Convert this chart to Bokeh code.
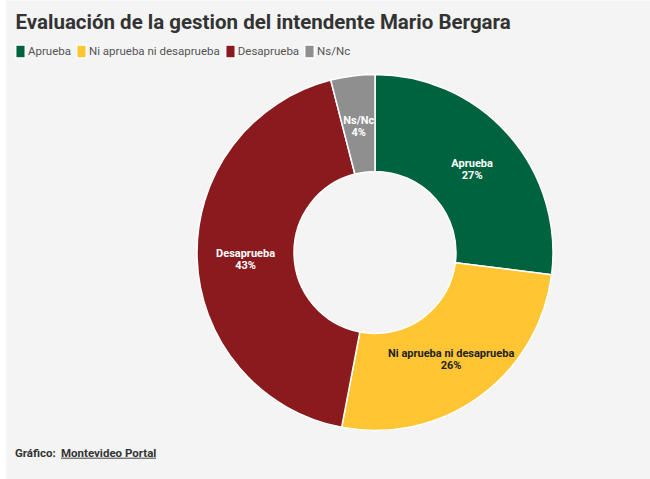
import math
from bokeh.plotting import figure
from bokeh.models import Range1d, Legend, LegendItem, ColumnDataSource
from bokeh.embed import file_html
from bokeh.resources import INLINE
from bokeh.core.properties import value

# ---- data ----
categories = ["Aprueba", "Ni aprueba ni desaprueba", "Desaprueba", "Ns/Nc"]
values = [27, 26, 43, 4]
colors = ["#00633f", "#ffc533", "#8b1a1e", "#8f8f8f"]
label_colors = ["#ffffff", "#222222", "#ffffff", "#ffffff"]

title = "Evaluación de la gestion del intendente Mario Bergara"
source_label = "Gráfico:"
source_name = "Montevideo Portal"

# ---- layout ----
W, H = 650, 479
LEFT = 6
FW = W - LEFT
BG = "#f4f4f4"
FONT = "Roboto"
CX, CY = 368.5, 227.0
R_OUT, R_IN = 178.0, 81.0

p = figure(width=W, height=H, output_backend="svg", toolbar_location=None,
           x_range=Range1d(0, FW), y_range=Range1d(0, H), min_border=0,
           min_border_left=LEFT,
           x_axis_location=None, y_axis_location=None,
           background_fill_color=BG, border_fill_color="white",
           outline_line_color=None)
p.xgrid.grid_line_color = None
p.ygrid.grid_line_color = None

total = float(sum(values))
starts, ends, mids = [], [], []
cum = 0.0
for v in values:
    f0 = cum / total
    cum += v
    f1 = cum / total
    starts.append(math.pi / 2 - 2 * math.pi * f0)
    ends.append(math.pi / 2 - 2 * math.pi * f1)
    mids.append(2 * math.pi * (f0 + f1) / 2)

src = ColumnDataSource(dict(cat=categories, val=values, color=colors,
                            start=starts, end=ends))
r = p.annular_wedge(x=CX, y=CY, inner_radius=R_IN, outer_radius=R_OUT,
                    start_angle="start", end_angle="end", direction="clock",
                    fill_color="color", line_color="white", line_width=1.5,
                    source=src)

rm = (R_IN + R_OUT) / 2
lx = [CX + rm * math.sin(t) for t in mids]
ly = [CY + rm * math.cos(t) for t in mids]
lab_src = ColumnDataSource(dict(
    x=lx, yn=[y + 3.5 for y in ly], yp=[y - 8.5 for y in ly],
    name=categories, pct=["%d%%" % v for v in values], tc=label_colors))
for col, txt in (("yn", "name"), ("yp", "pct")):
    p.text(x="x", y=col, text=txt, source=lab_src, text_color="tc",
           text_font=value(FONT), text_font_style="bold",
           text_font_size="11px", text_align="center",
           text_baseline="middle")

# title
p.text(x=[9], y=[458], text=[title], text_font=value(FONT),
       text_font_style="bold", text_font_size="20.5px", text_color="#333333",
       text_align="left", text_baseline="middle")

# legend
legend = Legend(items=[LegendItem(label=c, renderers=[r], index=i)
                       for i, c in enumerate(categories)],
                orientation="horizontal", location=(8, 420),
                glyph_width=12, glyph_height=16, label_height=16,
                label_text_font=FONT, label_text_font_size="11.5px",
                label_text_color="#555555", label_standoff=2, spacing=4,
                padding=0, margin=0, border_line_color=None,
                background_fill_alpha=0)
p.add_layout(legend)

# footer
p.text(x=[8.5], y=[27], text=[source_label], text_font=value(FONT),
       text_font_style="bold", text_font_size="11.5px", text_color="#333333",
       text_align="left", text_baseline="middle")
p.text(x=[54.5], y=[27], text=[source_name], text_font=value(FONT),
       text_font_style="bold", text_font_size="11.5px", text_color="#333333",
       text_align="left", text_baseline="middle")
p.segment(x0=[54.5], y0=[21.3], x1=[149.5], y1=[21.3], line_color="#444444",
          line_width=1)

open("out.html", "w").write(file_html(p, INLINE))
